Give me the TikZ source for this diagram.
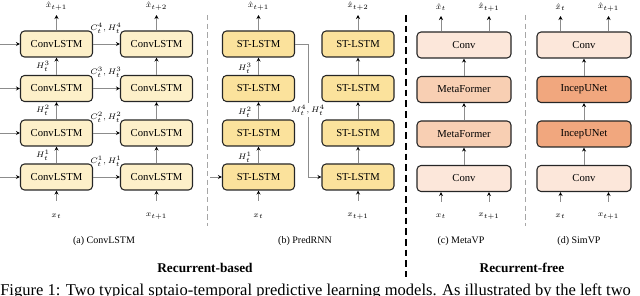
\documentclass[tikz,border=0pt]{standalone}
\usepackage{fontspec}
\setmainfont{Liberation Serif}
\usetikzlibrary{arrows.meta}
\definecolor{lstmfill}{HTML}{FDF0C9}
\definecolor{stfill}{HTML}{FBE29C}
\definecolor{convfill}{HTML}{FCE7DA}
\definecolor{metafill}{HTML}{F8CFB3}
\definecolor{incepfill}{HTML}{F1A77E}
\definecolor{linegray}{HTML}{8C8C8C}
\tikzset{
  blk/.style={draw=black!85, line width=0.8pt, rounded corners=3pt, inner sep=0pt,
    minimum height=19.5pt, font=\rmfamily\fontsize{8}{9}\selectfont},
  lstmbox/.style={blk, fill=lstmfill, minimum width=54pt},
  stbox/.style={blk, fill=stfill, minimum width=54pt},
  convbox/.style={blk, fill=convfill, minimum width=70.5pt},
  metabox/.style={blk, fill=metafill, minimum width=70.5pt},
  incepbox/.style={blk, fill=incepfill, minimum width=70.5pt},
  arr/.style={draw=linegray, line width=0.6pt, -{Stealth[black,length=3pt,width=3pt]}},
  lab/.style={font=\fontsize{6.3}{7}\selectfont, inner sep=0pt},
  sub/.style={font=\rmfamily\fontsize{7.5}{9}\selectfont, inner sep=0pt},
  part/.style={font=\rmfamily\bfseries\fontsize{10}{12}\selectfont, inner sep=0pt},
}
\begin{document}
\begin{tikzpicture}[x=0.75pt,y=-0.75pt]
\useasboundingbox (0,0) rectangle (640,296);

% ---------- (a) ConvLSTM ----------
\foreach \i/\y in {1/44,2/88.5,3/133,4/177}{
  \node[lstmbox] (cl\i) at (56.5,\y) {ConvLSTM};
  \node[lstmbox] (cr\i) at (156.5,\y) {ConvLSTM};
  \coordinate (ci\i) at (0,\y);
  \draw[arr] (ci\i) -- (cl\i);
  \draw[arr] (cl\i) -- (cr\i);
}
\node[lab] (cc4) at (106,28) {$C_t^4,H_t^4$};
\node[lab] (cc3) at (106,72.5) {$C_t^3,H_t^3$};
\node[lab] (cc2) at (106,117) {$C_t^2,H_t^2$};
\node[lab] (cc1) at (106,161.5) {$C_t^1,H_t^1$};
\foreach \a/\b in {2/1,3/2,4/3}{
  \draw[arr] (cl\a) -- (cl\b);
  \draw[arr] (cr\a) -- (cr\b);
}
\node[lab] (ch3) at (43,66) {$H_t^3$};
\node[lab] (ch2) at (43,110.5) {$H_t^2$};
\node[lab] (ch1) at (43,155) {$H_t^1$};
\coordinate (co1) at (56.5,15);
\coordinate (co2) at (156.5,15);
\draw[arr] (cl1) -- (co1);
\draw[arr] (cr1) -- (co2);
\node[lab] (cx1) at (56.5,6) {$\hat{x}_{t+1}$};
\node[lab] (cx2) at (156.5,6) {$\hat{x}_{t+2}$};
\coordinate (cn1) at (56.5,201);
\coordinate (cn2) at (156.5,201);
\draw[arr] (cn1) -- (cl4);
\draw[arr] (cn2) -- (cr4);
\node[lab] (ct1) at (56.5,216) {$x_t$};
\node[lab] (ct2) at (156.5,216) {$x_{t+1}$};
\node[sub] (capa) at (104,241) {(a) ConvLSTM};

% ---------- (b) PredRNN ----------
\foreach \i/\y in {1/44,2/88.5,3/133,4/177}{
  \node[stbox] (pl\i) at (258.5,\y) {ST-LSTM};
  \node[stbox] (pr\i) at (358,\y) {ST-LSTM};
}
\foreach \a/\b in {2/1,3/2,4/3}{
  \draw[arr] (pl\a) -- (pl\b);
  \draw[arr] (pr\a) -- (pr\b);
}
\node[lab] (ph3) at (245,68) {$H_t^3$};
\node[lab] (ph2) at (245,112.5) {$H_t^2$};
\node[lab] (ph1) at (245,157) {$H_t^1$};
\coordinate (pin) at (210,177);
\draw[arr] (pin) -- (pl4);
\draw[arr] (pl1.east) -- (308,44) -- (308,177) -- (pr4.west);
\node[lab, fill=white, inner sep=1pt] (pm) at (308,110) {$M_t^4,H_t^4$};
\coordinate (po1) at (258.5,15);
\coordinate (po2) at (358,15);
\draw[arr] (pl1) -- (po1);
\draw[arr] (pr1) -- (po2);
\node[lab] (px1) at (258.5,6) {$\hat{x}_{t+1}$};
\node[lab] (px2) at (358,6) {$\hat{x}_{t+2}$};
\coordinate (pn1) at (258.5,201);
\coordinate (pn2) at (358,201);
\draw[arr] (pn1) -- (pl4);
\draw[arr] (pn2) -- (pr4);
\node[lab] (pt1) at (258.5,216) {$x_t$};
\node[lab] (pt2) at (358,216) {$x_{t+1}$};
\node[sub] (capb) at (305,241) {(b) PredRNN};

% ---------- (c) MetaVP ----------
\node[convbox] (m1) at (464,45) {Conv};
\node[metabox] (m2) at (464,89.5) {MetaFormer};
\node[metabox] (m3) at (464,134) {MetaFormer};
\node[convbox] (m4) at (464,178.5) {Conv};
\draw[arr] (m2) -- (m1);
\draw[arr] (m3) -- (m2);
\draw[arr] (m4) -- (m3);
\coordinate (mo1) at (441,16);
\coordinate (mo2) at (489,16);
\draw[arr] (m1.north -| mo1) -- (mo1);
\draw[arr] (m1.north -| mo2) -- (mo2);
\node[lab] (mx1) at (441,7) {$\hat{x}_{t}$};
\node[lab] (mx2) at (489,7) {$\hat{x}_{t+1}$};
\coordinate (mn1) at (441,202);
\coordinate (mn2) at (489,202);
\draw[arr] (mn1) -- (m4.south -| mn1);
\draw[arr] (mn2) -- (m4.south -| mn2);
\node[lab] (mt1) at (441,216) {$x_t$};
\node[lab] (mt2) at (489,216) {$x_{t+1}$};
\node[sub] (capc) at (461,241) {(c) MetaVP};

% ---------- (d) SimVP ----------
\node[convbox] (s1) at (584,45) {Conv};
\node[incepbox] (s2) at (584,89.5) {IncepUNet};
\node[incepbox] (s3) at (584,134) {IncepUNet};
\node[convbox] (s4) at (584,178.5) {Conv};
\draw[arr] (s2) -- (s1);
\draw[arr] (s3) -- (s2);
\draw[arr] (s4) -- (s3);
\coordinate (so1) at (560.5,16);
\coordinate (so2) at (608.5,16);
\draw[arr] (s1.north -| so1) -- (so1);
\draw[arr] (s1.north -| so2) -- (so2);
\node[lab] (sx1) at (560.5,7) {$\hat{x}_{t}$};
\node[lab] (sx2) at (608.5,7) {$\hat{x}_{t+1}$};
\coordinate (sn1) at (560.5,202);
\coordinate (sn2) at (608.5,202);
\draw[arr] (sn1) -- (s4.south -| sn1);
\draw[arr] (sn2) -- (s4.south -| sn2);
\node[lab] (st1) at (560.5,216) {$x_t$};
\node[lab] (st2) at (608.5,216) {$x_{t+1}$};
\node[sub] (capd) at (579,241) {(d) SimVP};

% ---------- separators ----------
\draw[black!35, line width=0.6pt, dash pattern=on 4pt off 2.5pt] (207,15) -- (207,226);
\draw[black!35, line width=0.6pt, dash pattern=on 4pt off 2.5pt] (525,15) -- (525,226);
\draw[black, line width=1pt, dash pattern=on 5pt off 3pt] (406,15) -- (406,277);

\node[part] (rb) at (205,268) {Recurrent-based};
\node[part] (rf) at (522,268) {Recurrent-free};

\node[anchor=base west, inner sep=0pt, font=\rmfamily\fontsize{12.4}{14}\selectfont] (fig) at (0,295)
  {Figure 1: Two typical sptaio-temporal predictive learning models. As illustrated by the left two};
\end{tikzpicture}
\end{document}
